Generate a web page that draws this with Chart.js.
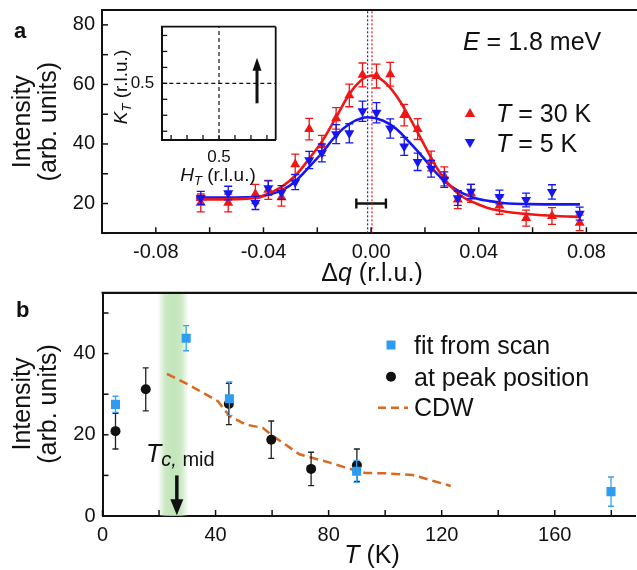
<!DOCTYPE html>
<html>
<head>
<meta charset="utf-8">
<script src="https://cdn.jsdelivr.net/npm/chart.js@4.4.0/dist/chart.umd.min.js"></script>
<style>
  html, body { margin: 0; padding: 0; background: #fff; overflow: hidden; }
  #wrap { position: relative; width: 637px; height: 570px; overflow: hidden; }
  canvas { position: absolute; }
  .topline { position: absolute; height: 2px; background: #111; }
</style>
</head>
<body>
<div id="wrap">
  <canvas id="chartA" width="642" height="285" style="left:0;top:0"></canvas>
  <canvas id="chartB" width="642" height="285" style="left:0;top:285px"></canvas>
  <canvas id="inset" width="185" height="172" style="left:100px;top:18px"></canvas>
  <div class="topline" style="left:101px;top:9px;width:536px"></div>
  <div class="topline" style="left:101.5px;top:291.7px;width:536px"></div>
</div>
<script>
// ---- panel a: q-scans at E = 1.8 meV
const dq = [-0.0633, -0.0531, -0.0430, -0.0382, -0.0333, -0.0282, -0.0230, -0.0183, -0.0130, -0.0081, -0.0032, 0.0020,
            0.0071, 0.0123, 0.0173, 0.0223, 0.0272, 0.0322, 0.0371, 0.0477, 0.0576, 0.0672, 0.0775];
const int30K = [20.2, 20.2, 23.2, 24.6, 22.1, 33.2, 45.0, 39.5, 48.6, 56.3, 63.2, 62.8,
                63.4, 49.7, 45.0, 34.3, 29.1, 21.3, 23.4, 19.3, 15.1, 15.8, 13.5];
const err30K = [3.0, 3.0, 3.2, 3.2, 3.0, 3.4, 3.6, 3.4, 3.6, 3.8, 4.0, 4.0,
                4.0, 3.6, 3.5, 3.3, 3.2, 3.0, 3.0, 2.9, 2.7, 2.8, 2.6];
const int5K = [21.9, 23.5, 20.2, 25.2, 23.7, 27.2, 34.6, 37.0, 43.3, 43.6, 51.0, 50.5,
               45.2, 39.2, 34.0, 31.7, 28.0, 21.8, 24.0, 22.2, 21.2, 23.9, 16.6];
const err5K = [2.2, 2.3, 2.2, 2.4, 2.3, 2.5, 2.9, 3.0, 3.2, 3.2, 3.4, 3.4,
               3.2, 3.0, 2.9, 2.8, 2.6, 2.4, 2.4, 2.3, 2.3, 2.4, 2.2];

// fitted curves
const fitQ30K = [-0.065, -0.0425, -0.038, -0.033, -0.028, -0.023, -0.018, -0.013, -0.008, -0.003, 0.0005, 0.0043,
                 0.0093, 0.0142, 0.0192, 0.0242, 0.0292, 0.0341, 0.0391, 0.0441, 0.049, 0.059, 0.0689, 0.0776];
const fit30K = [21.3, 21.9, 23.4, 25.8, 29.5, 35.1, 41.2, 49.0, 56.9, 61.9, 63.0, 61.3,
                56.3, 49.0, 40.6, 32.3, 26.1, 22.2, 20.0, 18.3, 17.4, 16.4, 15.8, 15.5];
const fitQ5K = [-0.065, -0.0426, -0.038, -0.033, -0.028, -0.023, -0.018, -0.013, -0.008, -0.003, -0.0013, 0.0043,
                0.0093, 0.0142, 0.0192, 0.0242, 0.0292, 0.0341, 0.0391, 0.0441, 0.049, 0.059, 0.0776];
const fit5K = [22.0, 22.2, 23.0, 24.5, 27.6, 32.3, 37.3, 42.9, 46.8, 48.8, 49.0, 47.9,
               45.1, 40.6, 35.6, 30.3, 26.1, 23.4, 21.7, 20.8, 20.2, 19.8, 19.7];
const peakQ30K = 0.0003, peakQ5K = -0.0013;   // fitted centres (dotted lines)
const resQ = 0, resI = 20, resHalf = 0.0055;  // resolution bar
const qRange = [-0.1, 0.0985], iRangeA = [10, 85];

// ---- inset: scan direction in (H, K)
const hRange = [0.3225, 0.6775], kRange = [0.3225, 0.6775];
const centreHK = 0.5;
const arrowH = 0.619, arrowK = [0.4375, 0.58];

// ---- panel b: temperature dependence
const tempFit = [4.6, 29.6, 44.9, 89.9, 179.9];
const intFit = [27.5, 43.8, 28.9, 11.0, 6.0];
const errFit = [2.0, 3.1, 4.1, 2.7, 3.6];
const tempPeak = [4.6, 15.3, 44.7, 59.7, 73.8, 90.0];
const intPeak = [20.9, 31.2, 27.6, 18.8, 11.6, 12.5];
const errPeak = [4.4, 5.3, 5.1, 4.6, 4.1, 4.0];
const tempCDW = [22.8, 30.8, 40.8, 44.9, 50.8, 56.7, 59.7, 69.7, 80.1, 89.5, 93.0, 100.0, 109.7, 123.2];
const intCDW = [35.0, 32.2, 28.3, 24.6, 22.5, 21.7, 20.0, 15.2, 13.2, 11.2, 10.6, 10.5, 10.1, 7.4];
const tcBand = [19.5, 30.5], tcMid = 26.3, tcArrow = [10, 0.2];
const tRange = [0, 188.6], iRangeB = [0, 55];

const FONT = '"Liberation Sans", Arial, Helvetica, sans-serif';
const RED = '#f01616', BLUE = '#1616f0', SKY = '#2f9cf2', ORANGE = '#d9691e', INK = '#111';
Chart.defaults.font.family = FONT;

const pts = (xs, ys) => xs.map((x, i) => ({ x: x, y: ys[i] }));

function rich(ctx, parts, x, y, align) {
  let w = 0;
  for (const p of parts) { ctx.font = p[1]; w += ctx.measureText(p[0]).width; }
  let cx = align === 'center' ? x - w / 2 : x;
  ctx.textAlign = 'left';
  ctx.textBaseline = 'alphabetic';
  for (const p of parts) {
    ctx.font = p[1];
    ctx.fillText(p[0], cx, y + (p[2] || 0));
    cx += ctx.measureText(p[0]).width;
  }
}
function vrich(ctx, parts, x, y) {
  ctx.save();
  ctx.translate(x, y);
  ctx.rotate(-Math.PI / 2);
  rich(ctx, parts, 0, 0, 'center');
  ctx.restore();
}
function tri(ctx, x, y, r, down, color) {
  const s = down ? -1 : 1;
  ctx.fillStyle = color;
  ctx.beginPath();
  ctx.moveTo(x, y - s * r);
  ctx.lineTo(x + 0.866 * r, y + s * r / 2);
  ctx.lineTo(x - 0.866 * r, y + s * r / 2);
  ctx.closePath();
  ctx.fill();
}

// inward tick marks (+ right frame line for the inset)
function drawFrame(chart, f) {
  const ctx = chart.ctx, a = chart.chartArea;
  ctx.save();
  ctx.strokeStyle = INK;
  ctx.lineWidth = f.width;
  ['x', 'y'].forEach(id => {
    const s = chart.scales[id], step = f[id];
    s.ticks.forEach(t => {
      const k = t.value / step;
      if (Math.abs(k - Math.round(k)) > 1e-6) return;
      const p = s.getPixelForValue(t.value);
      ctx.beginPath();
      if (id === 'x') { ctx.moveTo(p, a.bottom); ctx.lineTo(p, a.bottom - f.len); }
      else { ctx.moveTo(a.left, p); ctx.lineTo(a.left + f.len, p); }
      ctx.stroke();
    });
  });
  ctx.lineWidth = f.frame;
  ctx.beginPath();
  ctx.moveTo(a.left - 1, a.top); ctx.lineTo(a.right, a.top);
  if (f.box) { ctx.moveTo(a.right, a.top); ctx.lineTo(a.right, a.bottom); }
  ctx.stroke();
  ctx.restore();
}

// error bars drawn under each dataset's markers
const errorBars = {
  id: 'errorBars',
  beforeDatasetDraw(chart, args) {
    const ds = chart.data.datasets[args.index];
    if (!ds.errY && !ds.errX) return;
    const ctx = chart.ctx, xs = chart.scales.x, ys = chart.scales.y;
    const c = ds.capSize || 4;
    ctx.save();
    ctx.strokeStyle = ds.errColor;
    ctx.lineWidth = ds.errWidth || 1.3;
    ds.data.forEach((d, i) => {
      const px = xs.getPixelForValue(d.x), py = ys.getPixelForValue(d.y);
      ctx.beginPath();
      if (ds.errY) {
        const t = ys.getPixelForValue(d.y + ds.errY[i]), b = ys.getPixelForValue(d.y - ds.errY[i]);
        ctx.moveTo(px, t); ctx.lineTo(px, b);
        ctx.moveTo(px - c, t); ctx.lineTo(px + c, t);
        ctx.moveTo(px - c, b); ctx.lineTo(px + c, b);
      }
      if (ds.errX) {
        const l = xs.getPixelForValue(d.x - ds.errX[i]), r = xs.getPixelForValue(d.x + ds.errX[i]);
        ctx.moveTo(l, py); ctx.lineTo(r, py);
        ctx.moveTo(l, py - c); ctx.lineTo(l, py + c);
        ctx.moveTo(r, py - c); ctx.lineTo(r, py + c);
      }
      ctx.stroke();
    });
    ctx.restore();
  }
};

const zeroPad = s => { s.paddingLeft = s.paddingRight = s.paddingTop = s.paddingBottom = 0; };

function axis(range, step, every, digits, pad, size, fit) {
  return {
    type: 'linear', min: range[0], max: range[1],
    grid: { display: false, drawTicks: false },
    border: { display: true, color: INK, width: 2 },
    ticks: {
      stepSize: step, autoSkip: false, includeBounds: false, maxRotation: 0, padding: pad, color: INK,
      font: { family: FONT, size: size },
      callback: v => {
        const k = v / every;
        return Math.abs(k - Math.round(k)) < 1e-6 ? v.toFixed(digits) : '';
      }
    },
    afterBuildTicks: s => { s.min = range[0]; s.max = range[1]; },
    afterFit: s => { fit(s); zeroPad(s); }
  };
}
// bare top axis: only its border line is drawn (frame top)
function topAxis(range) {
  return {
    type: 'linear', position: 'top', min: range[0], max: range[1],
    grid: { display: false, drawTicks: false },
    border: { display: true, color: INK, width: 2 },
    ticks: { display: false },
    afterFit: s => { s.height = 0; zeroPad(s); }
  };
}

// ---------------- panel a
const decorA = {
  id: 'decorA',
  afterDraw(chart) {
    drawFrame(chart, { x: 0.02, y: 10, len: 6, width: 1.5, frame: 2 });
    const ctx = chart.ctx;
    ctx.save();
    ctx.fillStyle = INK;
    rich(ctx, [['a', 'bold 22px ' + FONT]], 14, 38);
    rich(ctx, [['E', 'italic 25px ' + FONT], [' = 1.8 meV', '25px ' + FONT]], 463, 50);
    tri(ctx, 470, 114, 6, false, RED);
    tri(ctx, 470, 142, 6, true, BLUE);
    ctx.fillStyle = INK;
    rich(ctx, [['T', 'italic 25px ' + FONT], [' = 30 K', '25px ' + FONT]], 496, 121.5);
    rich(ctx, [['T', 'italic 25px ' + FONT], [' = 5 K', '25px ' + FONT]], 496, 152);
    rich(ctx, [['Δ', '25px ' + FONT], ['q', 'italic 25px ' + FONT], [' (r.l.u.)', '25px ' + FONT]], 372, 281, 'center');
    vrich(ctx, [['Intensity', '25px ' + FONT]], 30, 121.7);
    vrich(ctx, [['(arb. units)', '25px ' + FONT]], 56, 121.7);
    ctx.restore();
  }
};

new Chart(document.getElementById('chartA'), {
  type: 'scatter',
  data: {
    datasets: [
      { data: pts(dq, int5K), pointStyle: 'triangle', rotation: 180, pointRadius: 5.8, pointHoverRadius: 5.8,
        backgroundColor: BLUE, borderColor: BLUE, pointBorderWidth: 0, errY: err5K, errColor: BLUE, capSize: 4, order: 0 },
      { data: pts(dq, int30K), pointStyle: 'triangle', pointRadius: 5.8, pointHoverRadius: 5.8,
        backgroundColor: RED, borderColor: RED, pointBorderWidth: 0, errY: err30K, errColor: RED, capSize: 4, order: 1 },
      { data: pts(fitQ30K, fit30K), showLine: true, pointRadius: 0, borderColor: RED, borderWidth: 2.6,
        cubicInterpolationMode: 'monotone', order: 2 },
      { data: pts(fitQ5K, fit5K), showLine: true, pointRadius: 0, borderColor: BLUE, borderWidth: 2.6,
        cubicInterpolationMode: 'monotone', order: 3 },
      { data: [{ x: peakQ30K, y: iRangeA[0] }, { x: peakQ30K, y: iRangeA[1] }], showLine: true, pointRadius: 0,
        borderColor: RED, borderWidth: 1.2, borderDash: [2, 2], order: 4 },
      { data: [{ x: peakQ5K, y: iRangeA[0] }, { x: peakQ5K, y: iRangeA[1] }], showLine: true, pointRadius: 0,
        borderColor: BLUE, borderWidth: 1.2, borderDash: [2, 2], order: 5 },
      { data: [{ x: resQ, y: resI }], pointRadius: 0, errX: [resHalf], errColor: INK, errWidth: 2.4, capSize: 5, order: 6 }
    ]
  },
  options: {
    responsive: false, animation: false, devicePixelRatio: 1,
    layout: { padding: { top: 10, left: 0, right: 0, bottom: 0 } },
    plugins: { legend: { display: false }, tooltip: { enabled: false } },
    scales: {
      x: axis(qRange, 0.02, 0.04, 2, 7, 20, s => { s.height = 51.7; }),
      y: axis(iRangeA, 10, 20, 0, 7, 20, s => { s.width = 102; }),
      xTop: topAxis(qRange)
    }
  },
  plugins: [errorBars, decorA]
});

// ---------------- inset
const decorInset = {
  id: 'decorInset',
  afterDraw(chart) {
    drawFrame(chart, { x: 0.05, y: 0.05, len: 5, width: 1.3, frame: 1.8, box: true });
    const ctx = chart.ctx, xs = chart.scales.x, ys = chart.scales.y;
    const ax = xs.getPixelForValue(arrowH), y0 = ys.getPixelForValue(arrowK[0]), y1 = ys.getPixelForValue(arrowK[1]);
    ctx.save();
    ctx.strokeStyle = INK; ctx.fillStyle = INK; ctx.lineWidth = 3;
    ctx.beginPath(); ctx.moveTo(ax, y0); ctx.lineTo(ax, y1 + 10); ctx.stroke();
    ctx.beginPath(); ctx.moveTo(ax, y1); ctx.lineTo(ax + 4.5, y1 + 13); ctx.lineTo(ax - 4.5, y1 + 13); ctx.closePath(); ctx.fill();
    rich(ctx, [['H', 'italic 19px ' + FONT], ['T', 'italic 13px ' + FONT, 4], [' (r.l.u.)', '19px ' + FONT]], 118, 162.5, 'center');
    vrich(ctx, [['K', 'italic 19px ' + FONT], ['T', 'italic 13px ' + FONT, 4], [' (r.l.u.)', '19px ' + FONT]], 27, 69);
    ctx.restore();
  }
};

new Chart(document.getElementById('inset'), {
  type: 'scatter',
  data: {
    datasets: [
      { data: [{ x: centreHK, y: kRange[0] }, { x: centreHK, y: kRange[1] }], showLine: true, pointRadius: 0,
        borderColor: INK, borderWidth: 1.2, borderDash: [4, 3] },
      { data: [{ x: hRange[0], y: centreHK }, { x: hRange[1], y: centreHK }], showLine: true, pointRadius: 0,
        borderColor: INK, borderWidth: 1.2, borderDash: [4, 3] }
    ]
  },
  options: {
    responsive: false, animation: false, devicePixelRatio: 1,
    layout: { padding: { top: 8.7, left: 0, right: 9.3, bottom: 0 } },
    plugins: { legend: { display: false }, tooltip: { enabled: false } },
    scales: {
      x: axis(hRange, 0.05, 0.5, 1, 7, 17, s => { s.height = 50; }),
      y: axis(kRange, 0.05, 0.5, 1, 8, 17, s => { s.width = 62.3; })
    }
  },
  plugins: [decorInset]
});

// ---------------- panel b
const OFF = 285;
const bandB = {
  id: 'bandB',
  beforeDatasetsDraw(chart) {
    const ctx = chart.ctx, a = chart.chartArea, xs = chart.scales.x;
    const x0 = xs.getPixelForValue(tcBand[0]), x1 = xs.getPixelForValue(tcBand[1]);
    const g = ctx.createLinearGradient(x0, 0, x1, 0);
    g.addColorStop(0, 'rgba(185,225,175,0)');
    g.addColorStop(0.25, 'rgba(185,225,175,0.75)');
    g.addColorStop(0.5, 'rgba(185,225,175,0.85)');
    g.addColorStop(0.75, 'rgba(185,225,175,0.75)');
    g.addColorStop(1, 'rgba(185,225,175,0)');
    ctx.save();
    ctx.fillStyle = g;
    ctx.fillRect(x0, a.top, x1 - x0, a.bottom - a.top);
    ctx.restore();
  }
};
const decorB = {
  id: 'decorB',
  afterDraw(chart) {
    drawFrame(chart, { x: 20, y: 10, len: 6, width: 1.5, frame: 2 });
    const ctx = chart.ctx, xs = chart.scales.x, ys = chart.scales.y;
    ctx.save();
    ctx.fillStyle = INK; ctx.strokeStyle = INK;
    // Tc arrow
    const ax = xs.getPixelForValue(tcMid), y0 = ys.getPixelForValue(tcArrow[0]), y1 = ys.getPixelForValue(tcArrow[1]);
    ctx.lineWidth = 3.5;
    ctx.beginPath(); ctx.moveTo(ax, y0); ctx.lineTo(ax, y1 - 14); ctx.stroke();
    ctx.beginPath(); ctx.moveTo(ax, y1); ctx.lineTo(ax + 6.5, y1 - 16); ctx.lineTo(ax - 6.5, y1 - 16); ctx.closePath(); ctx.fill();
    rich(ctx, [['T', 'italic 25px ' + FONT], ['c,', 'italic 20px ' + FONT, 4], [' mid', '20px ' + FONT, 4]], 146, 462 - OFF);
    rich(ctx, [['b', 'bold 22px ' + FONT]], 16, 317 - OFF);
    // legend
    ctx.fillStyle = SKY; ctx.fillRect(386.5, 340.5 - OFF, 9, 9);
    ctx.fillStyle = INK;
    ctx.beginPath(); ctx.arc(391, 376.7 - OFF, 5, 0, Math.PI * 2); ctx.fill();
    ctx.strokeStyle = ORANGE; ctx.lineWidth = 2.5; ctx.setLineDash([8, 5]);
    ctx.beginPath(); ctx.moveTo(378, 407.7 - OFF); ctx.lineTo(408, 407.7 - OFF); ctx.stroke();
    ctx.setLineDash([]);
    ctx.fillStyle = INK;
    rich(ctx, [['fit from scan', '25px ' + FONT]], 414, 354 - OFF);
    rich(ctx, [['at peak position', '25px ' + FONT]], 414, 386 - OFF);
    rich(ctx, [['CDW', '25px ' + FONT]], 414, 416 - OFF);
    rich(ctx, [['T', 'italic 25px ' + FONT], [' (K)', '25px ' + FONT]], 372, 563 - OFF, 'center');
    vrich(ctx, [['Intensity', '25px ' + FONT]], 30, 404 - OFF);
    vrich(ctx, [['(arb. units)', '25px ' + FONT]], 56, 404 - OFF);
    ctx.restore();
  }
};

new Chart(document.getElementById('chartB'), {
  type: 'scatter',
  data: {
    datasets: [
      { data: pts(tempFit, intFit), pointStyle: 'rect', pointRadius: 6.4, pointHoverRadius: 6.4,
        backgroundColor: SKY, borderColor: SKY, pointBorderWidth: 0, errY: errFit, errColor: '#3aa2f2', capSize: 3, order: 0 },
      { data: pts(tempPeak, intPeak), pointStyle: 'circle', pointRadius: 5, pointHoverRadius: 5,
        backgroundColor: INK, borderColor: INK, pointBorderWidth: 0, errY: errPeak, errColor: '#222', capSize: 3, order: 1 },
      { data: pts(tempCDW, intCDW), showLine: true, pointRadius: 0, borderColor: ORANGE, borderWidth: 2.5,
        borderDash: [9, 5], order: 2 }
    ]
  },
  options: {
    responsive: false, animation: false, devicePixelRatio: 1,
    layout: { padding: { top: 7.7, left: 0, right: 0, bottom: 0 } },
    plugins: { legend: { display: false }, tooltip: { enabled: false } },
    scales: {
      x: axis(tRange, 20, 40, 0, 7, 20, s => { s.height = 54; }),
      y: axis(iRangeB, 10, 20, 0, 7, 20, s => { s.width = 102.5; }),
      xTop: topAxis(tRange)
    }
  },
  plugins: [bandB, errorBars, decorB]
});
</script>
</body>
</html>
